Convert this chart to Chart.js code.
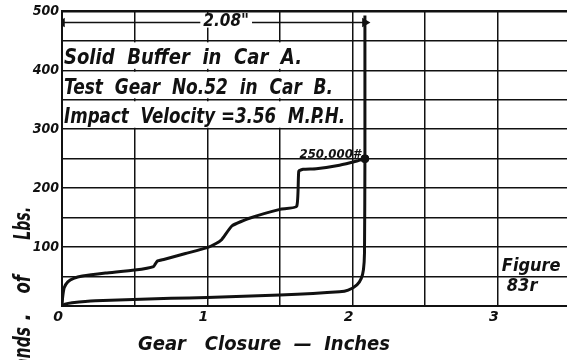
<!DOCTYPE html>
<html>
<head>
<meta charset="utf-8">
<script src="https://cdn.jsdelivr.net/npm/chart.js@4.4.0/dist/chart.umd.min.js"></script>
<style>
  html, body { margin: 0; padding: 0; background: #fff; overflow: hidden; }
  #wrap { width: 576px; height: 360px; }
</style>
</head>
<body>
<div id="wrap"><canvas id="closure-chart" width="576" height="360"></canvas></div>
<script>
// Gear closure (inches) vs load (thousands of lbs) for test gear No. 52
const loadClosure = [0, 0.005, 0.015, 0.04, 0.08, 0.14, 0.3, 0.5, 0.63, 0.655, 0.7, 0.85, 1.0, 1.06, 1.1, 1.17, 1.29, 1.5, 1.615, 1.63, 1.66, 1.75, 1.91, 2.03, 2.085];
const loadKips    = [0, 16, 31, 41, 47, 51, 56, 61, 67, 76, 79, 89, 99, 106, 113, 136, 149, 164, 169, 229, 232, 233, 239, 246, 250];

const releaseClosure = [2.085, 2.082, 2.075, 2.06, 2.03, 1.97, 1.91, 1.5, 1.0, 0.75, 0.23, 0.07, 0.02, 0];
const releaseKips    = [250, 90, 62, 47, 36, 27, 24, 18.5, 14.5, 13, 9, 5.5, 3, 0];

const maxClosure = 2.085;
const maxLoad = 250;
const spanLabel = '2.08"';
const peakLabel = '250,000#';
const dimLevel = 481;
const dimTop = 493;

const xTicks = [0, 1, 2, 3];
const yTicks = [100, 200, 300, 400, 500];

const noteLines = ["Solid  Buffer  in  Car  A.", "Test  Gear  No.52  in  Car  B.", "Impact  Velocity =3.56  M.P.H."];
const noteRows = [[400, 450], [350, 400], [300, 350]];
const noteWidths = [238, 269, 281];   // lettered length of each note, px

const ink = "#111";
const letter = "'DejaVu Sans Condensed', 'DejaVu Sans', sans-serif";

function pts(xs, ys) {
    return xs.map((x, i) => ({x: x, y: ys[i]}));
}

// squeeze text sideways a little, like hand lettering
function narrowText(ctx, text, x, y, squeeze) {
    ctx.save();
    ctx.translate(x, y);
    ctx.scale(squeeze, 1);
    ctx.fillText(text, 0, 0);
    ctx.restore();
}

// white-out behind the notes block and the lettering on top
const lettering = {
    id: "lettering",
    beforeDatasetsDraw(chart) {
        const ctx = chart.ctx;
        const xs = chart.scales.x, ys = chart.scales.y;
        ctx.save();
        ctx.fillStyle = "#fff";
        noteRows.forEach(r => {
            const top = ys.getPixelForValue(r[1]) + 1.5;
            const bot = ys.getPixelForValue(r[0]) - 1.5;
            ctx.fillRect(xs.getPixelForValue(0) + 1.5, top, xs.getPixelForValue(2) - xs.getPixelForValue(0) - 3, bot - top);
        });
        ctx.restore();
    },
    afterDatasetsDraw(chart) {
        const ctx = chart.ctx;
        const xs = chart.scales.x, ys = chart.scales.y;
        ctx.save();
        ctx.fillStyle = ink;

        // notes
        ctx.font = "italic bold 21px " + letter;
        ctx.textAlign = "left";
        ctx.textBaseline = "alphabetic";
        noteLines.forEach((t, i) => {
            const bot = ys.getPixelForValue(noteRows[i][0]);
            const top = ys.getPixelForValue(noteRows[i][1]);
            const squeeze = noteWidths[i] / ctx.measureText(t).width;
            narrowText(ctx, t, xs.getPixelForValue(0) + 2, bot - (bot - top) * 0.2, squeeze);
        });

        // dimension label
        ctx.font = "italic bold 17px " + letter;
        ctx.textAlign = "center";
        ctx.textBaseline = "middle";
        const lx = xs.getPixelForValue(1.13), ly = ys.getPixelForValue(dimLevel) - 1;
        const w = ctx.measureText(spanLabel).width;
        ctx.fillStyle = "#fff";
        ctx.fillRect(lx - w / 2 - 3, ly - 7, w + 6, 13);
        ctx.fillStyle = ink;
        ctx.fillText(spanLabel, lx, ly);

        // peak label
        ctx.font = "italic bold 13px " + letter;
        ctx.textAlign = "right";
        ctx.textBaseline = "alphabetic";
        ctx.fillText(peakLabel, xs.getPixelForValue(maxClosure) - 4, ys.getPixelForValue(maxLoad) - 1);

        // figure number
        ctx.font = "italic bold 18px " + letter;
        ctx.textAlign = "left";
        ctx.fillText("Figure", xs.getPixelForValue(3) + 4, ys.getPixelForValue(50) - 6);
        ctx.fillText("83r", xs.getPixelForValue(3) + 9, ys.getPixelForValue(50) + 14);

        // axis titles
        ctx.font = "italic bold 20px " + letter;
        ctx.textAlign = "left";
        narrowText(ctx, "Gear   Closure  \u2014  Inches", 138, 350, 1.0);

        // vertical title, word by word, reading upward
        ctx.translate(24, 207);
        ctx.rotate(-Math.PI / 2);
        ctx.font = "italic bold 23px " + letter;
        ctx.textAlign = "right";
        ctx.textBaseline = "middle";
        narrowText(ctx, "Lbs.", 0, 0, 0.68);
        narrowText(ctx, "of", -68, 0, 0.8);
        narrowText(ctx, ".", -106, 0, 1.0);
        narrowText(ctx, "Thousands", -120, 0, 0.75);
        ctx.restore();
    }
};

const ctx_closure = document.getElementById("closure-chart").getContext("2d");
const closure_chart = new Chart(ctx_closure, {
    type: "line",
    data: {
        datasets: [
            {
                data: pts(loadClosure, loadKips),
                borderColor: ink,
                borderWidth: 3,
                pointRadius: 0,
                tension: 0.15,
            },
            {
                data: pts(releaseClosure, releaseKips),
                borderColor: ink,
                borderWidth: 3,
                pointRadius: 0,
                tension: 0.2,
            },
            {
                // extension line up to the dimension
                data: [{x: maxClosure, y: maxLoad}, {x: maxClosure, y: dimTop}],
                borderColor: ink,
                borderWidth: 3,
                pointRadius: 0,
            },
            {
                // 2.08" dimension with arrow heads
                data: [{x: 0, y: dimLevel}, {x: maxClosure, y: dimLevel}],
                borderColor: ink,
                borderWidth: 1.5,
                pointStyle: "triangle",
                rotation: [-90, 90],
                pointRadius: 4,
                pointBackgroundColor: ink,
                pointBorderColor: ink,
            },
            {
                data: [{x: maxClosure, y: maxLoad}],
                showLine: false,
                pointRadius: 4,
                pointBackgroundColor: ink,
                pointBorderColor: ink,
            },
        ]
    },
    options: {
        responsive: false,
        animation: false,
        layout: {
            padding: {top: 11, right: 0, left: 0, bottom: 0},
        },
        plugins: {
            legend: {display: false},
            tooltip: {enabled: false},
        },
        scales: {
            x: {
                type: "linear",
                min: 0,
                max: 3.5,
                afterFit: function(scale) { scale.height = 54; },
                ticks: {
                    stepSize: 0.5,
                    autoSkip: false,
                    maxRotation: 0,
                    padding: 3,
                    labelOffset: -4,
                    color: ink,
                    font: {family: "DejaVu Sans", size: 14, style: "italic", weight: "bold"},
                    callback: function(val) {
                        return xTicks.includes(val) ? String(val) : "";
                    },
                },
                grid: {color: ink, lineWidth: 1.5, drawTicks: false},
                border: {color: ink, width: 2},
            },
            y: {
                min: 0,
                max: 500,
                afterFit: function(scale) { scale.width = 62; },
                ticks: {
                    stepSize: 50,
                    padding: 3,
                    color: ink,
                    font: {family: "DejaVu Sans Condensed", size: 14, style: "italic", weight: "bold"},
                    callback: function(val) {
                        return yTicks.includes(val) ? String(val) : "";
                    },
                },
                grid: {
                    color: ink,
                    drawTicks: false,
                    lineWidth: function(c) { return c.tick && c.tick.value === 500 ? 2.5 : 1.5; },
                },
                border: {color: ink, width: 2},
            },
        },
    },
    plugins: [lettering],
});
</script>
</body>
</html>
